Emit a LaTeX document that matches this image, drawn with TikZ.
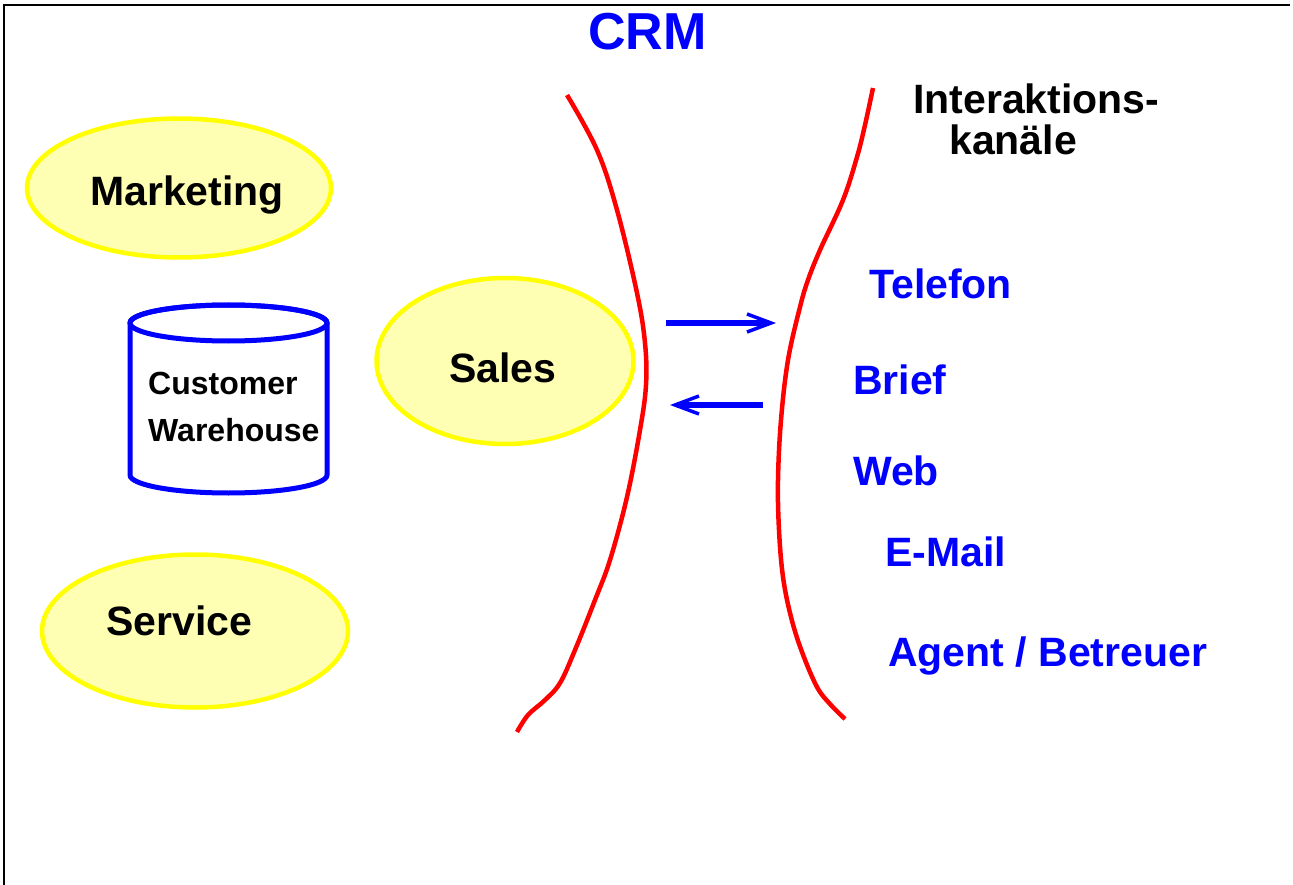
\documentclass[tikz,border=0pt]{standalone}
\usepackage{fontspec}
\setmainfont{Liberation Sans}
\usetikzlibrary{shapes.geometric,arrows.meta}
\definecolor{pureblue}{RGB}{0,0,255}
\definecolor{purered}{RGB}{255,0,0}
\definecolor{ellborder}{RGB}{255,255,0}
\definecolor{ellfill}{RGB}{255,255,180}
\tikzset{
  blob/.style={ellipse, draw=ellborder, fill=ellfill, line width=4.5pt, inner sep=0pt},
  biglabel/.style={anchor=base west, inner sep=0pt, font=\fontsize{41}{49}\selectfont\bfseries},
  chan/.style={biglabel, text=pureblue},
  cwlabel/.style={anchor=base west, inner sep=0pt, font=\fontsize{32}{38}\selectfont\bfseries},
  border/.style={line width=1.5pt, draw=black},
  boundary/.style={draw=purered, line width=4.5pt},
  flow/.style={draw=pureblue, line width=5.5pt, -{Straight Barb[length=24pt,width=18pt,line width=3.5pt]}},
}
\begin{document}
\begin{tikzpicture}[x=1pt,y=-1pt]
\useasboundingbox (0,0) rectangle (1293,885);
% frame (top and left)
\draw[border] (1290,5) -- (4,5) -- (4,885);
% title
\node[biglabel, text=pureblue, font=\fontsize{52}{60}\selectfont\bfseries] (crm) at (588,50) {CRM};
% ellipses
\node[blob, minimum width=304pt, minimum height=139pt] (mk) at (179,188) {};
\node[biglabel] (mkt) at (90,206) {Marketing};
\node[blob, minimum width=257pt, minimum height=166pt] (sa) at (505,361) {};
\node[biglabel] (sat) at (449,382) {Sales};
\node[blob, minimum width=306pt, minimum height=153pt] (se) at (195,631) {};
\node[biglabel] (set) at (106,635) {Service};
% cylinder
\filldraw[fill=white, draw=pureblue, line width=5pt]
  (130,323) -- (130,475) arc[start angle=180, end angle=360, x radius=98.5pt, y radius=18pt]
  -- (327,323) arc[start angle=0, end angle=180, x radius=98.5pt, y radius=18pt] -- cycle;
\draw[draw=pureblue, line width=5pt] (228.5,323) ellipse [x radius=98.5pt, y radius=18pt];
\node[cwlabel] (cw1) at (148,394) {Customer};
\node[cwlabel] (cw2) at (148,441) {Warehouse};
% red boundaries
\draw[boundary] plot[smooth, tension=0.6] coordinates {(567,95) (597,150) (617,210) (637,293) (645,343) (646,385) (640,430) (627,497) (610,560) (595,600) (575,650) (560,683) (545,700) (528,715) (517,732)};
\draw[boundary] plot[smooth, tension=0.6] coordinates {(873,88) (865,125) (857,157) (843,200) (820,250) (808,280) (800,307) (788,360) (781,420) (778,480) (779,530) (783,577) (791,617) (802,652) (817,687) (830,704) (845,719)};
% arrows
\coordinate (outS) at (666,323);
\coordinate (outE) at (776,323);
\coordinate (inS) at (763,405);
\coordinate (inE) at (670,405);
\draw[flow] (outS) -- (outE);
\draw[flow] (inS) -- (inE);
% channel labels
\node[biglabel] (ik1) at (913,114) {Interaktions-};
\node[biglabel] (ik2) at (949,155) {kanäle};
\node[chan] (tel) at (869,299) {Telefon};
\node[chan] (bri) at (853,394) {Brief};
\node[chan] (web) at (853,485) {Web};
\node[chan] (eml) at (885,566) {E-Mail};
\node[chan] (agt) at (888,666) {Agent / Betreuer};
\end{tikzpicture}
\end{document}
